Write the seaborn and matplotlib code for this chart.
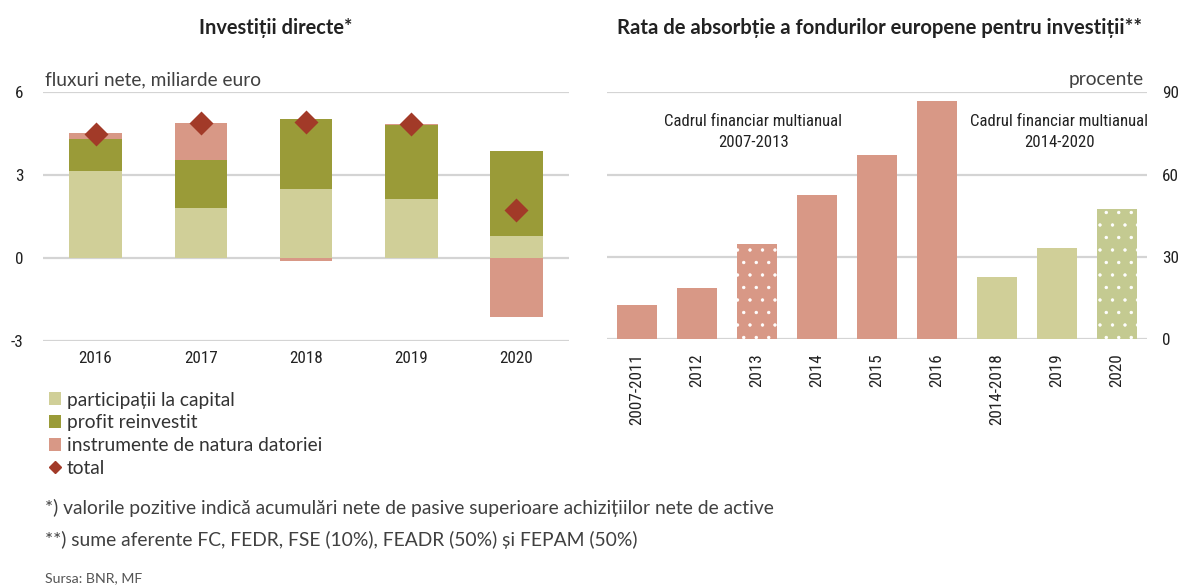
import matplotlib
matplotlib.use("Agg")
import matplotlib.pyplot as plt
import matplotlib.hatch as mhatch
from matplotlib import font_manager as fm
import seaborn as sns
import numpy as np
import pandas as pd
from matplotlib.patches import Patch
from matplotlib.lines import Line2D

# ---------------- data ----------------
years = ["2016", "2017", "2018", "2019", "2020"]
participatii = [3.16, 1.80, 2.49, 2.13, 0.79]
profit = [1.16, 1.74, 2.55, 2.67, 3.07]
datorie = [0.19, 1.35, -0.13, 0.04, -2.13]
total = [4.50, 4.89, 4.92, 4.86, 1.73]

periods = ["2007-2011", "2012", "2013", "2014", "2015", "2016", "2014-2018", "2019", "2020"]
absorbtie = [12.4, 18.6, 34.5, 52.7, 67.1, 86.7, 22.6, 33.1, 47.6]
cadru = ["2007-2013"] * 6 + ["2014-2020"] * 3
dotted = ["2013", "2020"]

legend_labels = ["participații la capital", "profit reinvestit",
                 "instrumente de natura datoriei", "total"]

# ---------------- style ----------------
C_PART = "#D0CF98"
C_PROF = "#9A9B38"
C_DAT = "#D89886"
C_TOT = "#A23A28"
C_GREEN_DOT = "#C4CA91"
GRID = "#D4D4D4"
TXT = "#222222"


# sparser white dot pattern for the "." hatch
class _Dots(mhatch.Circles):
    size = 0.1
    filled = True

    def __init__(self, hatch, density):
        self.num_rows = hatch.count('.') * 8
        super().__init__(hatch, density)


mhatch._hatch_types = [(_Dots if t is mhatch.SmallFilledCircles else t)
                       for t in mhatch._hatch_types]

sns.set_theme(style="white")
plt.rcParams["font.family"] = ["Lato", "DejaVu Sans"]
plt.rcParams["hatch.linewidth"] = 0.6

# pick a condensed family if one is installed
_fonts = fm.fontManager.ttflist
_names = {f.name for f in _fonts}
COND_STRETCH = "normal"
if "Roboto Condensed" in _names:
    COND = ["Roboto Condensed", "DejaVu Sans"]
elif "Liberation Sans Narrow" in _names:
    COND = ["Liberation Sans Narrow", "DejaVu Sans"]
elif "Open Sans Condensed" in _names:
    COND = ["Open Sans Condensed", "DejaVu Sans"]
else:
    cands = [f.name for f in _fonts if f.stretch in ("condensed", "semi-condensed")
             and f.name in ("Noto Sans", "Open Sans", "DejaVu Sans", "Roboto")]
    if cands:
        COND = [cands[0], "DejaVu Sans"]
        COND_STRETCH = "condensed"
    else:
        COND = ["Roboto", "DejaVu Sans"]

fig = plt.figure(figsize=(11.87, 5.87), dpi=100)
W, H = 1187, 587
_r = fig.canvas.get_renderer()


def fit_size(s, target_px, base=12.0, **kw):
    t = fig.text(0, 0, s, fontsize=base, **kw)
    w = t.get_window_extent(renderer=_r).width
    t.remove()
    return base * target_px / w


SZ_TICK = min(fit_size("2007-2011", 71, family=COND, fontstretch=COND_STRETCH), 15)
SZ_ANN = min(fit_size("Cadrul financiar multianual", 178, family=COND,
                      fontstretch=COND_STRETCH), 15)


def ax_rect(x0, y0, x1, y1):
    return [x0 / W, 1 - y1 / H, (x1 - x0) / W, (y1 - y0) / H]


ax1 = fig.add_axes(ax_rect(43, 92.3, 569, 340.7))
ax2 = fig.add_axes(ax_rect(607, 92.3, 1147, 339))

# ---------------- left chart ----------------
df1 = pd.DataFrame({"an": years, "part": participatii, "prof": profit,
                    "dat": datorie, "tot": total})
base_prof = df1["part"].to_numpy()
base_dat = np.where(df1["dat"] > 0, df1["part"] + df1["prof"], 0.0)

sns.barplot(data=df1, x="an", y="part", color=C_PART, width=0.5,
            saturation=1, ax=ax1, zorder=2, linewidth=0)
sns.barplot(data=df1, x="an", y="prof", color=C_PROF, width=0.5,
            saturation=1, ax=ax1, zorder=2, linewidth=0, bottom=base_prof)
sns.barplot(data=df1, x="an", y="dat", color=C_DAT, width=0.5,
            saturation=1, ax=ax1, zorder=2, linewidth=0, bottom=base_dat)
sns.pointplot(data=df1, x="an", y="tot", color=C_TOT, linestyle="none",
              marker="D", markersize=10.5, ax=ax1, zorder=4)

ax1.set_ylim(-3, 6)
ax1.set_xlim(-0.5, 4.5)
ax1.set_yticks([-3, 0, 3, 6])
ax1.set_yticklabels(["-3", "0", "3", "6"])
ax1.set_xlabel("")
ax1.set_ylabel("")

# ---------------- right chart ----------------
df2 = pd.DataFrame({"perioada": periods, "rata": absorbtie, "cadru": cadru})
sns.barplot(data=df2, x="perioada", y="rata", hue="cadru",
            palette={"2007-2013": C_DAT, "2014-2020": C_PART},
            width=0.68, dodge=False, saturation=1, legend=False,
            ax=ax2, zorder=2, linewidth=0)
ax2.set_xlim(-0.5, 8.5)
ax2.set_ylim(0, 90)
ax2.set_yticks([0, 30, 60, 90])
ax2.set_xlabel("")
ax2.set_ylabel("")
ax2.yaxis.tick_right()

# dotted bars
for bar in ax2.patches:
    cx = bar.get_x() + bar.get_width() / 2
    idx = int(round(cx))
    if 0 <= idx < len(periods) and periods[idx] in dotted:
        if cadru[idx] == "2014-2020":
            bar.set_facecolor(C_GREEN_DOT)
        bar.set_hatch(".")
        bar.set_edgecolor("white")
        bar.set_linewidth(0)

for ax in (ax1, ax2):
    for s in ax.spines.values():
        s.set_visible(False)
    ax.yaxis.grid(True, color=GRID, linewidth=1.6)
    ax.xaxis.grid(False)
    ax.set_axisbelow(True)
    ax.tick_params(length=0)
    for lab in ax.get_xticklabels() + ax.get_yticklabels():
        lab.set_family(COND)
        lab.set_fontstretch(COND_STRETCH)
        lab.set_fontsize(SZ_TICK)
        lab.set_color(TXT)

ax1.tick_params(axis="y", pad=14)
ax1.tick_params(axis="x", pad=7.5)
ax2.tick_params(axis="y", pad=11)
ax2.tick_params(axis="x", pad=10)
for lab in ax2.get_xticklabels():
    lab.set_rotation(90)

# annotations in right chart
for xc, lab in [(1.94, "Cadrul financiar multianual\n2007-2013"),
                (7.04, "Cadrul financiar multianual\n2014-2020")]:
    ax2.text(xc, 75.5, lab, ha="center", va="center", fontsize=SZ_ANN,
             family=COND, fontstretch=COND_STRETCH,
             color=TXT, linespacing=1.45)

# ---------------- titles & units ----------------
fig.text(276 / W, 1 - 28 / H, "Investiții directe*", ha="center", va="center",
         fontsize=14.4, fontweight="bold", color=TXT)
fig.text(880 / W, 1 - 27.5 / H, "Rata de absorbție a fondurilor europene pentru investiții**",
         ha="center", va="center", fontsize=14.6, fontweight="bold", color=TXT)
fig.text(45 / W, 1 - 85 / H, "fluxuri nete, miliarde euro", ha="left",
         va="baseline", fontsize=13.8, color="#404040")
fig.text(1144 / W, 1 - 85 / H, "procente", ha="right", va="baseline",
         fontsize=13.8, color="#404040")

# ---------------- legend ----------------
handles = [Patch(facecolor=C_PART, edgecolor="none"),
           Patch(facecolor=C_PROF, edgecolor="none"),
           Patch(facecolor=C_DAT, edgecolor="none"),
           Line2D([], [], marker="D", linestyle="none", color=C_TOT, markersize=6)]
fig.legend(handles, legend_labels, loc="upper left",
           bbox_to_anchor=(39 / W, 1 - 382 / H), frameon=False,
           fontsize=13.8, handlelength=0.65, handleheight=0.65,
           handletextpad=0.3, labelspacing=0.3, borderpad=0,
           labelcolor="#333333")

# ---------------- footnotes ----------------
fig.text(45 / W, 1 - 508 / H,
         "*) valorile pozitive indică acumulări nete de pasive superioare achizițiilor nete de active",
         ha="left", va="center", fontsize=13.9, color="#404040")
fig.text(45 / W, 1 - 540 / H,
         "**) sume aferente FC, FEDR, FSE (10%), FEADR (50%) și FEPAM (50%)",
         ha="left", va="center", fontsize=13.9, color="#404040")
fig.text(45 / W, 1 - 578 / H, "Sursa: BNR, MF", ha="left", va="center",
         fontsize=10.2, color="#555555")

fig.savefig("out.png", dpi=100)
